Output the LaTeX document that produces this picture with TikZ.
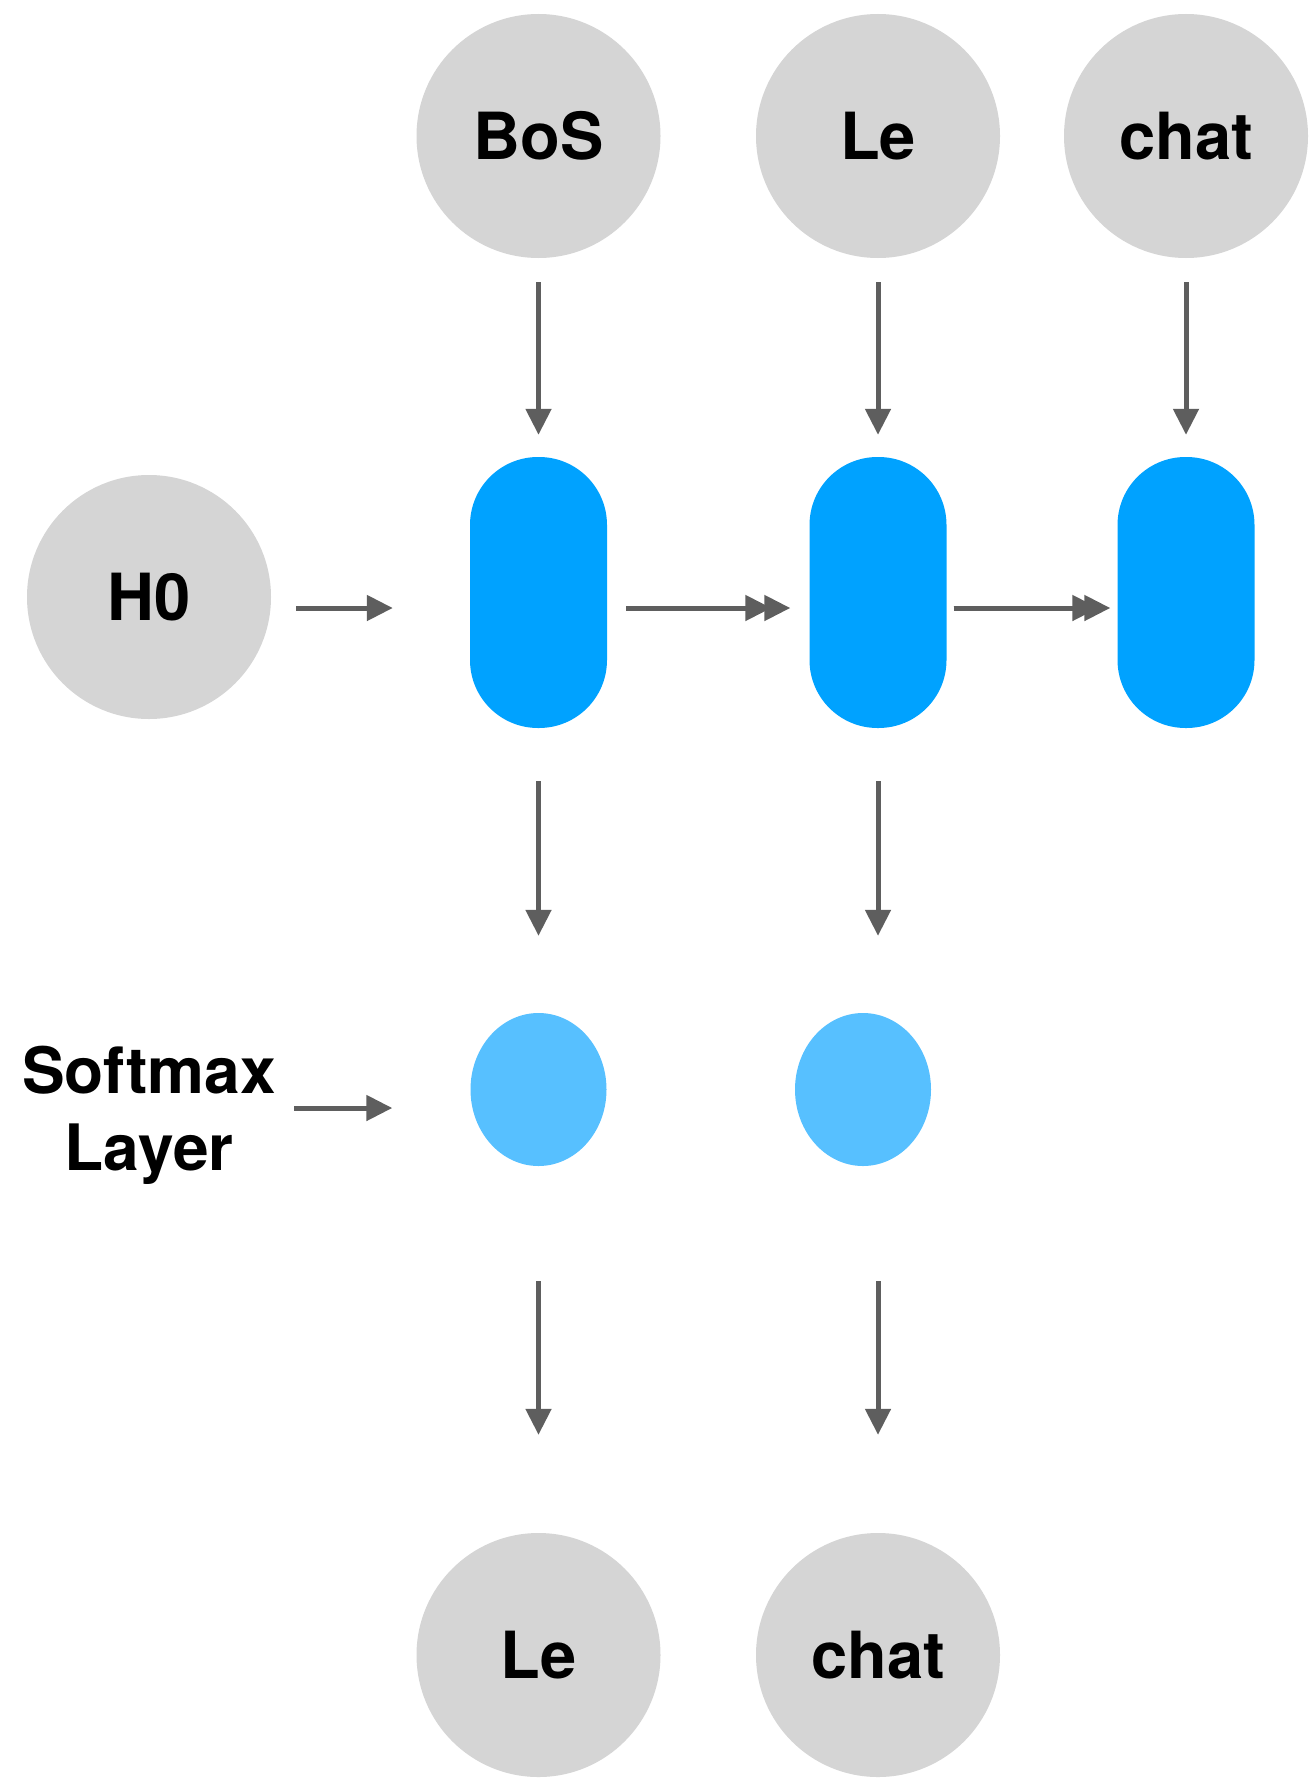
\documentclass[tikz,border=0pt]{standalone}
\usepackage{fontspec}
\setmainfont{TeX Gyre Heros}
\usetikzlibrary{arrows.meta,calc,shapes.geometric}
\definecolor{tokgray}{HTML}{D5D5D5}
\definecolor{cellblue}{HTML}{00A2FF}
\definecolor{smblue}{HTML}{57C0FF}
\definecolor{arrgray}{HTML}{5E5E5E}
\begin{document}
\begin{tikzpicture}[x=1pt,y=-1pt,
  token/.style={circle,fill=tokgray,minimum size=244pt,inner sep=0pt,
    font=\fontsize{65}{78}\selectfont\bfseries,text height=47pt,text depth=0pt},
  cell/.style={rectangle,rounded corners=68pt,fill=cellblue,
    minimum width=137pt,minimum height=271pt,inner sep=0pt},
  smax/.style={ellipse,fill=smblue,minimum width=136pt,minimum height=153pt,inner sep=0pt},
  lbl/.style={font=\fontsize{64}{77}\selectfont\bfseries,align=center,inner sep=0pt},
  arr/.style={draw=arrgray,line width=5pt,-{Triangle[length=26pt,width=25pt]}},
]
\fill[white] (0,0) rectangle (1311,1782);
\useasboundingbox (0,0) rectangle (1311,1782);

% input tokens
\node[token] (bos) at (538.5,136) {BoS};
\node[token] (lein) at (878,136) {Le};
\node[token] (chatin) at (1186,136) {chat};

% initial hidden state
\node[token] (h0) at (149,597) {H0};

% recurrent cells
\node[cell] (c1) at (538.5,592.5) {};
\node[cell] (c2) at (878,592.5) {};
\node[cell] (c3) at (1186,592.5) {};

% softmax units
\node[smax] (s1) at (538.5,1089.5) {};
\node[smax] (s2) at (863,1089.5) {};
\node[lbl,anchor=base] (sm) at (149,1170) {Softmax\\Layer};

% output tokens
\node[token] (leout) at (538.5,1655) {Le};
\node[token] (chatout) at (878,1655) {chat};

% inputs into cells
\draw[arr] ($(bos.south)+(0,24)$) -- ($(c1.north)+(0,-22)$);
\draw[arr] ($(lein.south)+(0,24)$) -- ($(c2.north)+(0,-22)$);
\draw[arr] ($(chatin.south)+(0,24)$) -- ($(c3.north)+(0,-22)$);

% hidden state flow
\coordinate (h0tip) at ($(c1.west)+(-77,15.5)$);
\draw[arr] ([xshift=25pt]h0.east |- h0tip) -- (h0tip);
\draw[arr] ($(c1.east)+(19,15.5)$) -- ($(c2.west)+(-19,15.5)$);
\draw[arr] ($(c1.east)+(19,15.5)$) -- ($(c2.west)+(-38,15.5)$);
\draw[arr] ($(c2.east)+(7,15.5)$) -- ($(c3.west)+(-7,15.5)$);
\draw[arr] ($(c2.east)+(7,15.5)$) -- ($(c3.west)+(-19,15.5)$);

% cells into softmax
\draw[arr] ($(c1.south)+(0,53)$) -- ($(s1.north)+(0,-77)$);
\draw[arr] ($(c2.south)+(0,53)$) -- ($(s2.north -| c2.south)+(0,-77)$);
\coordinate (smtip) at ($(s1.west)+(-78,18.5)$);
\draw[arr] ([xshift=18pt]sm.east |- smtip) -- (smtip);

% softmax into outputs
\draw[arr] ($(s1.south)+(0,115)$) -- ($(leout.north)+(0,-98)$);
\draw[arr] ($(s2.south -| chatout.north)+(0,115)$) -- ($(chatout.north)+(0,-98)$);
\end{tikzpicture}
\end{document}
